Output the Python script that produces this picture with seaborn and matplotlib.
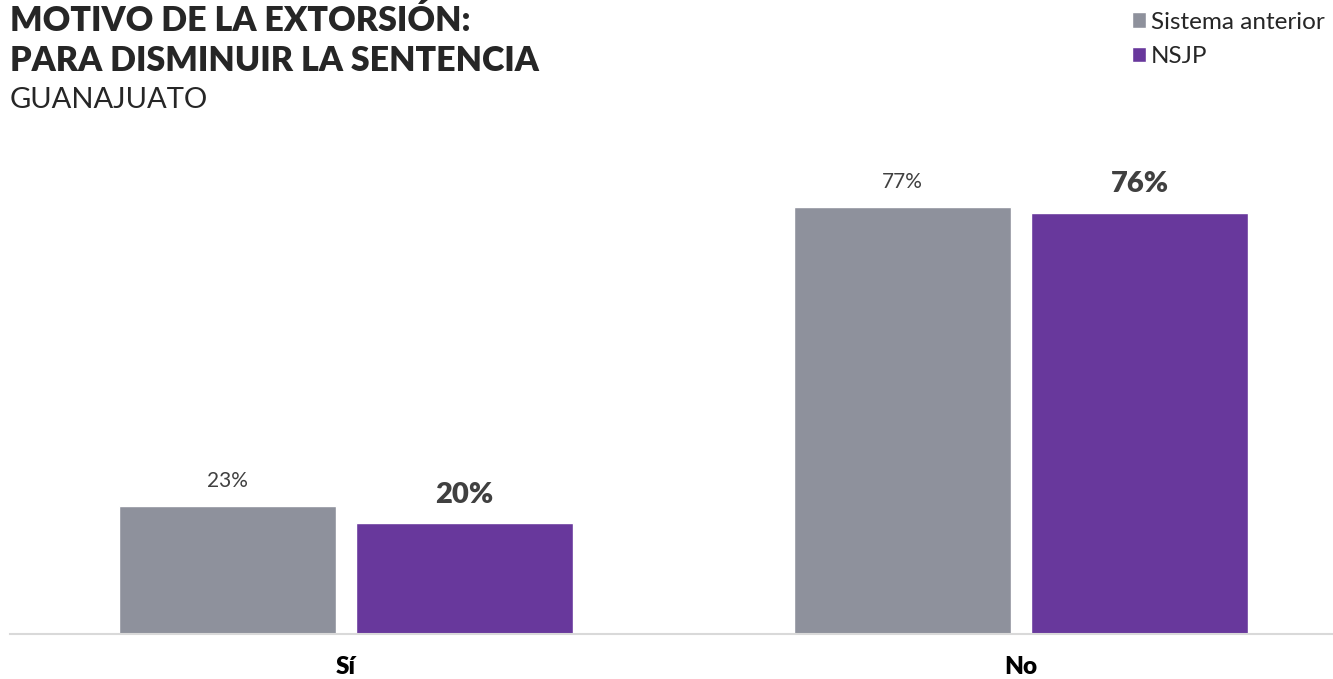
import pandas as pd
import matplotlib.pyplot as plt
import seaborn as sns
from matplotlib.patches import Patch

# --- data ---
categories = ['Sí', 'No']
series = ['Sistema anterior', 'NSJP']
sistema_anterior = [23, 77]
nsjp = [20, 76]
colors = {'Sistema anterior': '#8E919C', 'NSJP': '#68389C'}

df = pd.DataFrame({
    'categoria': categories * 2,
    'sistema': [series[0]] * 2 + [series[1]] * 2,
    'valor': sistema_anterior + nsjp,
})

sns.set_style('white')
plt.rcParams['font.family'] = ['Lato', 'DejaVu Sans']

fig = plt.figure(figsize=(13.33, 6.79), dpi=100)
ax = fig.add_axes([10 / 1333, 45 / 679, 1323 / 1333, 484 / 679])

sns.barplot(data=df, x='categoria', y='valor', hue='sistema', order=categories,
            hue_order=series, palette=colors, width=0.702, gap=0.084,
            ax=ax, legend=False, saturation=1)

ax.set_xlim(-0.498, 1.462)
ax.set_ylim(0, 87.3)
ax.set_xlabel('')
ax.set_ylabel('')
ax.set_yticks([])
for s in ['top', 'right', 'left']:
    ax.spines[s].set_visible(False)
ax.spines['bottom'].set_color('#D9D9D9')
ax.spines['bottom'].set_linewidth(1.5)
ax.tick_params(axis='x', length=0, pad=16)
for lbl in ax.get_xticklabels():
    lbl.set_fontsize(17.5)
    lbl.set_fontweight('heavy')
    lbl.set_color('black')

# value labels
ax.bar_label(ax.containers[0], labels=[f'{v}%' for v in sistema_anterior],
             padding=11, fontsize=15, color='#404040')
ax.bar_label(ax.containers[1], labels=[f'{v}%' for v in nsjp],
             padding=11, fontsize=21, fontweight='heavy', color='#404040')

# titles (one line each, placed on baselines)
x0 = 10 / 1333
fig.text(x0, 1 - 31 / 679, 'MOTIVO DE LA EXTORSIÓN:', fontsize=24.5,
         fontweight='heavy', va='baseline', ha='left')
fig.text(x0, 1 - 71 / 679, 'PARA DISMINUIR LA SENTENCIA', fontsize=24.5,
         fontweight='heavy', va='baseline', ha='left')
fig.text(x0, 1 - 108 / 679, 'GUANAJUATO', fontsize=21, va='baseline', ha='left')

# legend
handles = [Patch(facecolor=colors[s], label=s) for s in series]
fig.legend(handles=handles, loc='upper left', bbox_to_anchor=(1122 / 1333, 1 - 2 / 679),
           frameon=False, fontsize=17.5, handlelength=0.6, handleheight=0.6,
           handletextpad=0.2, labelspacing=0.55, borderaxespad=0)

plt.savefig('out.png', dpi=100)
